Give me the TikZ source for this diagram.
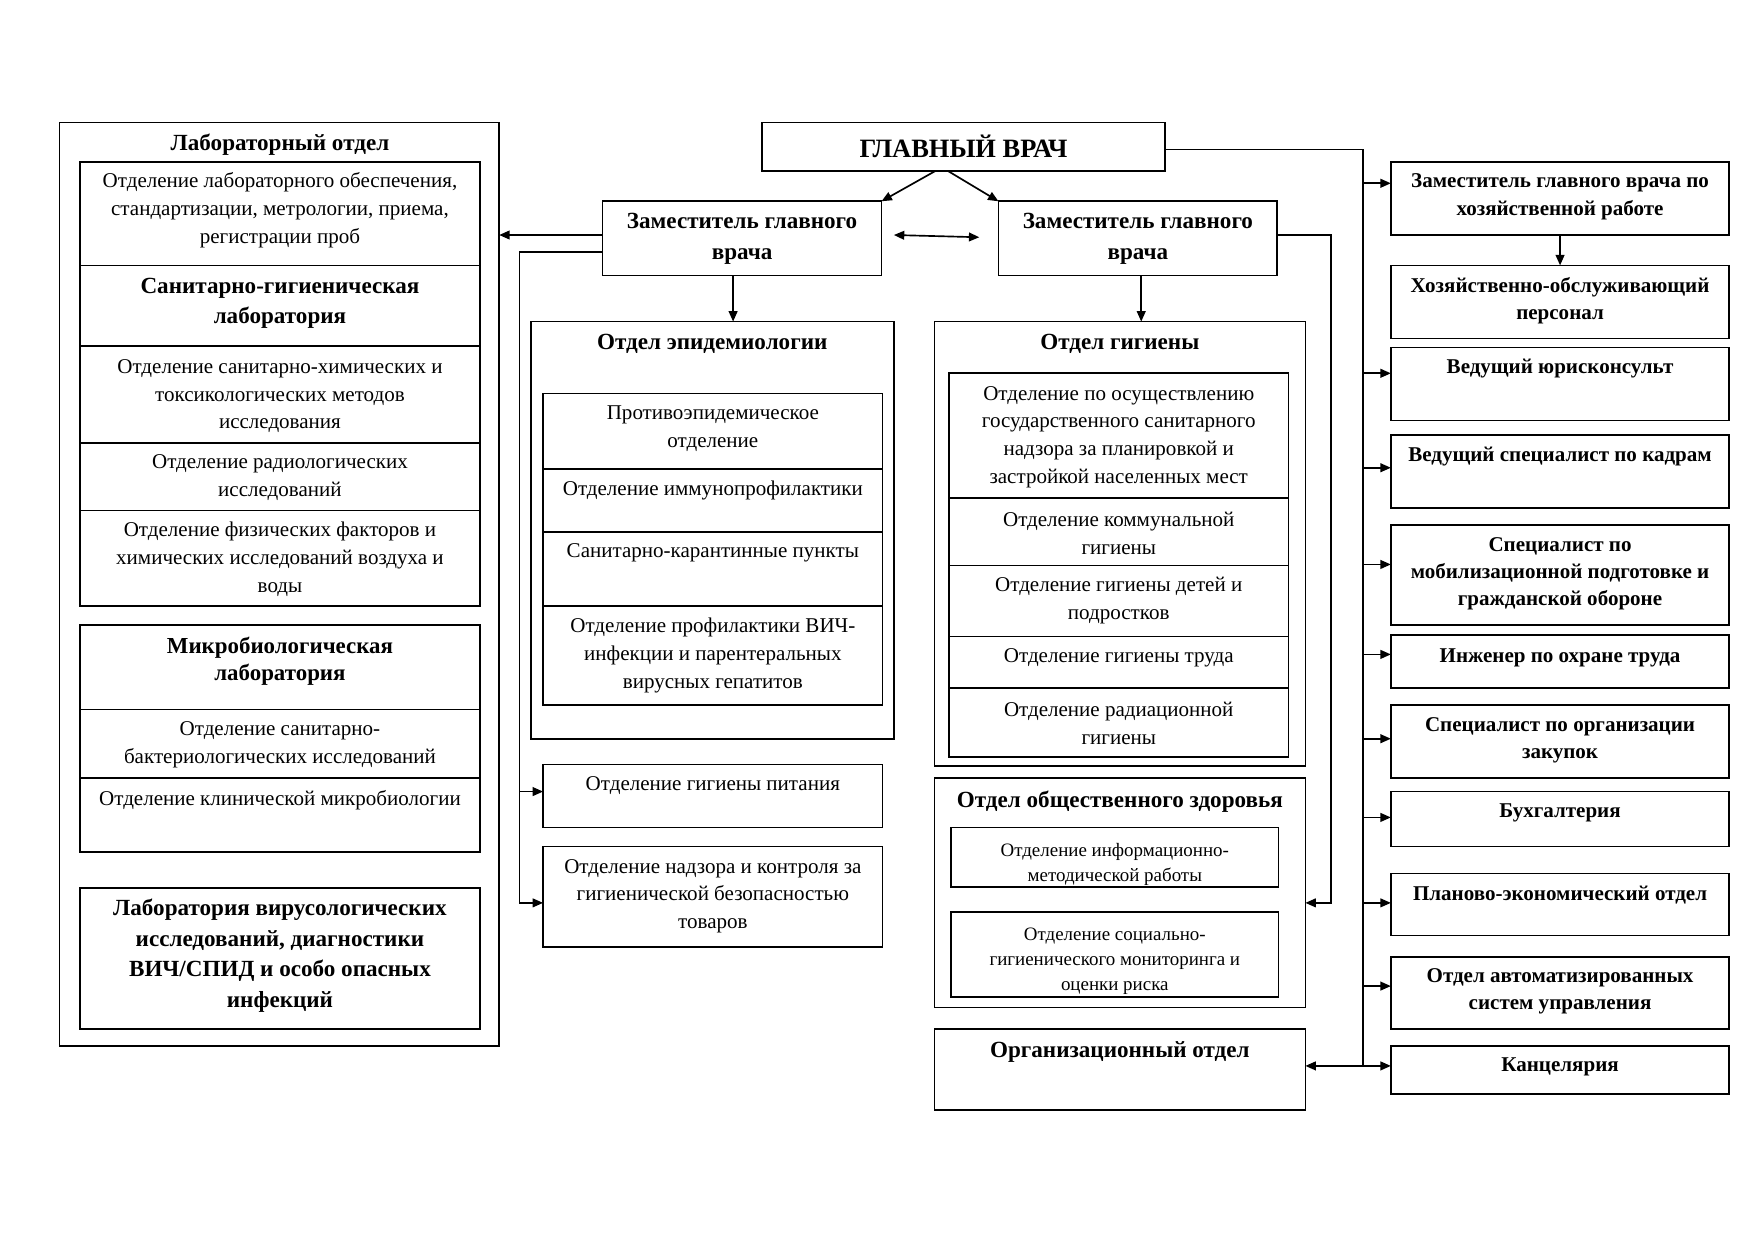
\documentclass[tikz,border=0pt]{standalone}
\usepackage{fontspec}
\setmainfont{Liberation Serif}
\usetikzlibrary{arrows.meta}
\newcommand{\fN}{\fontsize{10.1}{13.3}\selectfont}
\newcommand{\fS}{\fontsize{9.1}{11.9}\selectfont}
\newcommand{\fH}{\bfseries\fontsize{11.1}{14.6}\selectfont}
\newcommand{\fM}{\bfseries\fontsize{11}{13}\selectfont}
\newcommand{\fR}{\bfseries\fontsize{10.1}{13}\selectfont}
\newcommand{\fG}{\bfseries\fontsize{12.7}{15}\selectfont}
\newcommand{\bx}[5]{\node[box, minimum width={(#3-#1)*0.54pt}, minimum height={(#4-#2)*0.54pt}] (#5) at ({(#1+#3)/2},{(#2+#4)/2}) {};}
\tikzset{
  box/.style={draw, line width=0.8pt, inner sep=0pt, outer sep=0pt},
  tn/.style={align=center, inner sep=0pt, font=\fN},
  ts/.style={align=center, inner sep=0pt, font=\fS},
  th/.style={align=center, inner sep=0pt, font=\fH},
  tm/.style={align=center, inner sep=0pt, font=\fM},
  tr/.style={align=center, inner sep=0pt, font=\fR},
  tg/.style={align=center, inner sep=0pt, font=\fG},
  conn/.style={line width=0.8pt},
  arr/.style={line width=0.8pt, -{Triangle[length=5pt,width=4.2pt]}},
  arrb/.style={line width=0.8pt, {Triangle[length=5pt,width=4.2pt]}-{Triangle[length=5pt,width=4.2pt]}}
}
\begin{document}
\begin{tikzpicture}[x=0.54pt,y=-0.54pt]
\useasboundingbox (0,0) rectangle (1560,1104);
% top
\bx{678}{109}{1036}{152}{gv}
\node[tg] (tgv) at (857,130) {ГЛАВНЫЙ ВРАЧ};
\bx{536}{179}{784}{245}{dl}
\node[th] (tdl) at (660,212.5) {Заместитель главного\\врача};
\bx{888}{179}{1136}{245}{dr}
\node[th] (tdr) at (1012,212.5) {Заместитель главного\\врача};
% laboratory
\bx{53}{109}{444}{930}{lab}
\node[th] (tlab) at (249,129) {Лабораторный отдел};
\bx{71}{144}{427}{236}{la1}
\node[tn] (tla1) at (249,187) {Отделение лабораторного обеспечения,\\стандартизации, метрологии, приема,\\регистрации проб};
\bx{71}{236}{427}{308}{la2}
\node[th] (tla2) at (249,269.5) {Санитарно-гигиеническая\\лаборатория};
\bx{71}{308}{427}{394}{la3}
\node[tn] (tla3) at (249,352.5) {Отделение санитарно-химических и\\токсикологических методов\\исследования};
\bx{71}{394}{427}{454}{la4}
\node[tn] (tla4) at (249,425) {Отделение радиологических\\исследований};
\bx{71}{454}{427}{539}{la5}
\node[tn] (tla5) at (249,497.5) {Отделение физических факторов и\\химических исследований воздуха и\\воды};
\bx{71}{556}{427}{631}{mb1}
\node[tm] (tmb1) at (249,588) {Микробиологическая\\лаборатория};
\bx{71}{631}{427}{692}{mb2}
\node[tn] (tmb2) at (249,662.5) {Отделение санитарно-\\бактериологических исследований};
\bx{71}{692}{427}{758}{mb3}
\node[tn] (tmb3) at (249,712) {Отделение клинической микробиологии};
\bx{71}{790}{427}{915}{vir}
\node[th] (tvir) at (249,850) {Лаборатория вирусологических\\исследований, диагностики\\ВИЧ/СПИД и особо опасных\\инфекций};
% epidemiology
\bx{472}{286}{795}{657}{epi}
\node[th] (tepi) at (633.5,306) {Отдел эпидемиологии};
\bx{483}{350}{785}{417}{ep1}
\node[tn] (tep1) at (634,381.5) {Противоэпидемическое\\отделение};
\bx{483}{417}{785}{473}{ep2}
\node[tn] (tep2) at (634,436) {Отделение иммунопрофилактики};
\bx{483}{473}{785}{539}{ep3}
\node[tn] (tep3) at (634,492) {Санитарно-карантинные пункты};
\bx{483}{539}{785}{627}{ep4}
\node[tn] (tep4) at (634,583) {Отделение профилактики ВИЧ-\\инфекции и парентеральных\\вирусных гепатитов};
\bx{483}{680}{785}{736}{nut}
\node[tn] (tnut) at (634,699) {Отделение гигиены питания};
\bx{483}{753}{785}{842}{sup}
\node[tn] (tsup) at (634,797) {Отделение надзора и контроля за\\гигиенической безопасностью\\товаров};
% hygiene
\bx{831}{286}{1161}{681}{hyg}
\node[th] (thyg) at (996,306) {Отдел гигиены};
\bx{844}{332}{1146}{443}{hg1}
\node[tn] (thg1) at (995,388.5) {Отделение по осуществлению\\государственного санитарного\\надзора за планировкой и\\застройкой населенных мест};
\bx{844}{443}{1146}{503}{hg2}
\node[tn] (thg2) at (995,474.5) {Отделение коммунальной\\гигиены};
\bx{844}{503}{1146}{566}{hg3}
\node[tn] (thg3) at (995,534) {Отделение гигиены детей и\\подростков};
\bx{844}{566}{1146}{612}{hg4}
\node[tn] (thg4) at (995,585) {Отделение гигиены труда};
\bx{844}{612}{1146}{673}{hg5}
\node[tn] (thg5) at (995,643.5) {Отделение радиационной\\гигиены};
% public health
\bx{831}{692}{1161}{896}{ph}
\node[th] (tph) at (996,713) {Отдел общественного здоровья};
\bx{846}{736}{1137}{789}{ph1}
\begin{scope}
\clip (ph1.south west) rectangle (ph1.north east);
\node[ts] (tph1) at (991.5,769) {Отделение информационно-\\методической работы};
\end{scope}
\bx{846}{811}{1137}{887}{ph2}
\begin{scope}
\clip (ph2.south west) rectangle (ph2.north east);
\node[ts] (tph2) at (991.5,855) {Отделение социально-\\гигиенического мониторинга и\\оценки риска};
\end{scope}
\bx{831}{915}{1161}{987}{org}
\node[th] (torg) at (996,936) {Организационный отдел};
% right column
\bx{1237}{144}{1538}{209}{r1}
\node[tr] (tr1) at (1387.5,175) {Заместитель главного врача по\\хозяйственной работе};
\bx{1237}{236}{1538}{301}{r2}
\node[tr] (tr2) at (1387.5,267.5) {Хозяйственно-обслуживающий\\персонал};
\bx{1237}{309}{1538}{374}{r3}
\node[tr] (tr3) at (1387.5,328) {Ведущий юрисконсульт};
\bx{1237}{387}{1538}{452}{r4}
\node[tr] (tr4) at (1387.5,406) {Ведущий специалист по кадрам};
\bx{1237}{467}{1538}{556}{r5}
\node[tr] (tr5) at (1387.5,510) {Специалист по\\мобилизационной подготовке и\\гражданской обороне};
\bx{1237}{565}{1538}{612}{r6}
\node[tr] (tr6) at (1387.5,585) {Инженер по охране труда};
\bx{1237}{627}{1538}{692}{r7}
\node[tr] (tr7) at (1387.5,658) {Специалист по организации\\закупок};
\bx{1237}{704}{1538}{753}{r8}
\node[tr] (tr8) at (1387.5,723) {Бухгалтерия};
\bx{1237}{777}{1538}{832}{r9}
\node[tr] (tr9) at (1387.5,796) {Планово-экономический отдел};
\bx{1237}{851}{1538}{915}{r10}
\node[tr] (tr10) at (1387.5,882) {Отдел автоматизированных\\систем управления};
\bx{1237}{930}{1538}{973}{r11}
\node[tr] (tr11) at (1387.5,949) {Канцелярия};
% connectors
\coordinate (gva) at (832,152);
\coordinate (gvb) at (843,152);
\draw[arr] (gva) -- (dl.north east);
\draw[arr] (gvb) -- (dr.north west);
\coordinate (dda) at (795,209);
\coordinate (ddb) at (871,211);
\draw[arrb] (dda) -- (ddb);
\draw[arr] (dl.west |- 0,209) -- (lab.east |- 0,209);
\coordinate (lbt) at (462,224);
\coordinate (lbb) at (462,803);
\draw[arr] (dl.west |- lbt) -- (lbt) -- (lbb) -- (sup.west |- lbb);
\draw[arr] (lbt |- 0,704) -- (nut.west |- 0,704);
\draw[arr] (dl.south -| 652,0) -- (epi.north -| 652,0);
\draw[arr] (dr.south -| 1015,0) -- (hyg.north -| 1015,0);
\coordinate (rbt) at (1184,209);
\coordinate (rbb) at (1184,803);
\draw[arr] (dr.east |- rbt) -- (rbt) -- (rbb) -- (ph.east |- rbb);
\coordinate (gbt) at (1212,133);
\coordinate (gbb) at (1212,948);
\draw[conn] (gv.east |- gbt) -- (gbt) -- (gbb);
\draw[arrb] (org.east |- gbb) -- (r11.west |- gbb);
\draw[arr] (gbt |- 0,163) -- (r1.west |- 0,163);
\draw[arr] (gbt |- 0,332) -- (r3.west |- 0,332);
\draw[arr] (gbt |- 0,416) -- (r4.west |- 0,416);
\draw[arr] (gbt |- 0,502) -- (r5.west |- 0,502);
\draw[arr] (gbt |- 0,582) -- (r6.west |- 0,582);
\draw[arr] (gbt |- 0,657) -- (r7.west |- 0,657);
\draw[arr] (gbt |- 0,727) -- (r8.west |- 0,727);
\draw[arr] (gbt |- 0,803) -- (r9.west |- 0,803);
\draw[arr] (gbt |- 0,877) -- (r10.west |- 0,877);
\draw[arr] (r1.south) -- (r2.north);
\end{tikzpicture}
\end{document}
